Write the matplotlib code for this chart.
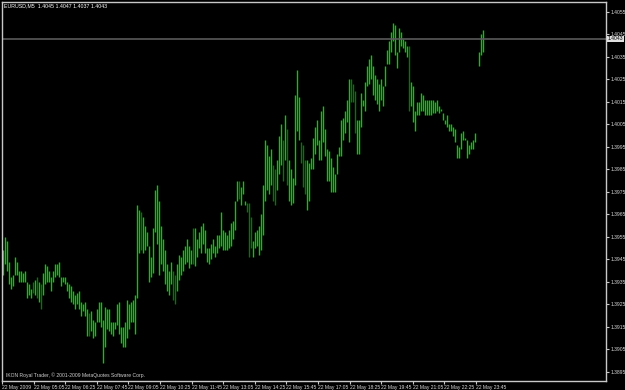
import matplotlib
matplotlib.use("Agg")
import matplotlib.pyplot as plt
import numpy as np

title = "EURUSD,M5  1.4045 1.4047 1.4037 1.4043"
copyright_txt = "IKON Royal Trader, \u00a9 2001-2009 MetaQuotes Software Corp."
bid = 1.4043

highs = [
    1.3949, 1.3955, 1.3953, 1.3944, 1.3937, 1.3938, 1.3946, 1.3944, 1.3940, 1.3940,
    1.3939, 1.3940, 1.3935, 1.3934, 1.3932, 1.3935, 1.3936, 1.3937, 1.3935, 1.3934,
    1.3939, 1.3943, 1.3942, 1.3940, 1.3937, 1.3940, 1.3943, 1.3943, 1.3944, 1.3937,
    1.3937, 1.3937, 1.3935, 1.3934, 1.3933, 1.3931, 1.3929, 1.3930, 1.3931, 1.3926,
    1.3925, 1.3926, 1.3923, 1.3921, 1.3922, 1.3918, 1.3917, 1.3923, 1.3926, 1.3926,
    1.3918, 1.3924, 1.3923, 1.3923, 1.3917, 1.3917, 1.3917, 1.3925, 1.3926, 1.3915,
    1.3915, 1.3917, 1.3927, 1.3925, 1.3926, 1.3927, 1.3929, 1.3969, 1.3967, 1.3966,
    1.3964, 1.3960, 1.3957, 1.3951, 1.3946, 1.3959, 1.3976, 1.3978, 1.3971, 1.3960,
    1.3954, 1.3949, 1.3943, 1.3940, 1.3944, 1.3940, 1.3938, 1.3943, 1.3947, 1.3946,
    1.3949, 1.3951, 1.3954, 1.3951, 1.3949, 1.3959, 1.3959, 1.3954, 1.3957, 1.3960,
    1.3961, 1.3958, 1.3950, 1.3950, 1.3952, 1.3954, 1.3951, 1.3956, 1.3956, 1.3966,
    1.3958, 1.3957, 1.3956, 1.3958, 1.3961, 1.3962, 1.3971, 1.3980, 1.3980, 1.3977,
    1.3980, 1.3971, 1.3970, 1.3970, 1.3964, 1.3953, 1.3957, 1.3958, 1.3960, 1.3965,
    1.3978, 1.3998, 1.3996, 1.3991, 1.3994, 1.3987, 1.3985, 1.3989, 1.4000, 1.4005,
    1.3998, 1.4009, 1.4003, 1.3989, 1.3985, 1.3981, 1.4018, 1.4029, 1.4017, 1.3997,
    1.3996, 1.3989, 1.3989, 1.3988, 1.3990, 1.3999, 1.4004, 1.4007, 1.3998, 1.4011,
    1.4013, 1.4003, 1.3994, 1.3993, 1.3990, 1.3986, 1.3983, 1.3992, 1.3995, 1.4007,
    1.4008, 1.4011, 1.4016, 1.4025, 1.4025, 1.4023, 1.4020, 1.4007, 1.4007, 1.4019,
    1.4016, 1.4024, 1.4031, 1.4034, 1.4036, 1.4031, 1.4027, 1.4025, 1.4023, 1.4025,
    1.4022, 1.4031, 1.4038, 1.4042, 1.4046, 1.4050, 1.4049, 1.4037, 1.4048, 1.4046,
    1.4043, 1.4042, 1.4040, 1.4040, 1.4024, 1.4022, 1.4011, 1.4015, 1.4015, 1.4019,
    1.4018, 1.4016, 1.4016, 1.4016, 1.4016, 1.4016, 1.4015, 1.4016, 1.4013, 1.4012,
    1.4010, 1.4007, 1.4009, 1.4005, 1.4005, 1.4004, 1.4003, 1.3996, 1.3995, 1.4001,
    1.4002, 1.3999, 1.3998, 1.3996, 1.3997, 1.3998, 1.4001, 1.4033, 1.4037, 1.4045,
    1.4047,
]

lows = [
    1.3938, 1.3943, 1.3940, 1.3934, 1.3932, 1.3933, 1.3938, 1.3938, 1.3935, 1.3935,
    1.3935, 1.3935, 1.3928, 1.3929, 1.3928, 1.3930, 1.3929, 1.3928, 1.3926, 1.3923,
    1.3929, 1.3934, 1.3935, 1.3935, 1.3931, 1.3935, 1.3937, 1.3938, 1.3937, 1.3933,
    1.3935, 1.3934, 1.3931, 1.3928, 1.3926, 1.3925, 1.3923, 1.3925, 1.3923, 1.3920,
    1.3922, 1.3920, 1.3911, 1.3911, 1.3913, 1.3910, 1.3911, 1.3917, 1.3917, 1.3915,
    1.3899, 1.3906, 1.3914, 1.3913, 1.3912, 1.3911, 1.3914, 1.3916, 1.3912, 1.3908,
    1.3906, 1.3906, 1.3910, 1.3914, 1.3917, 1.3917, 1.3912, 1.3928, 1.3948, 1.3949,
    1.3948, 1.3949, 1.3951, 1.3935, 1.3937, 1.3939, 1.3957, 1.3952, 1.3938, 1.3943,
    1.3940, 1.3934, 1.3931, 1.3929, 1.3934, 1.3927, 1.3925, 1.3931, 1.3936, 1.3938,
    1.3940, 1.3943, 1.3944, 1.3941, 1.3943, 1.3943, 1.3942, 1.3946, 1.3950, 1.3948,
    1.3952, 1.3948, 1.3944, 1.3943, 1.3945, 1.3948, 1.3946, 1.3948, 1.3950, 1.3951,
    1.3949, 1.3949, 1.3949, 1.3950, 1.3951, 1.3954, 1.3958, 1.3971, 1.3972, 1.3969,
    1.3974, 1.3969, 1.3966, 1.3946, 1.3950, 1.3946, 1.3950, 1.3951, 1.3947, 1.3949,
    1.3956, 1.3971, 1.3976, 1.3974, 1.3978, 1.3971, 1.3969, 1.3976, 1.3983, 1.3987,
    1.3980, 1.3989, 1.3978, 1.3971, 1.3969, 1.3970, 1.3978, 1.4002, 1.3998, 1.3988,
    1.3977, 1.3974, 1.3967, 1.3971, 1.3985, 1.3985, 1.3992, 1.3996, 1.3989, 1.3989,
    1.3997, 1.3991, 1.3980, 1.3980, 1.3975, 1.3975, 1.3975, 1.3983, 1.3991, 1.3991,
    1.3998, 1.4001, 1.4006, 1.3997, 1.4015, 1.4015, 1.4001, 1.3992, 1.3992, 1.4004,
    1.4013, 1.4011, 1.4022, 1.4023, 1.4025, 1.4018, 1.4016, 1.4014, 1.4011, 1.4016,
    1.4013, 1.4022, 1.4032, 1.4032, 1.4037, 1.4042, 1.4036, 1.4030, 1.4037, 1.4040,
    1.4039, 1.4037, 1.4035, 1.4011, 1.4013, 1.4006, 1.4002, 1.4009, 1.4009, 1.4011,
    1.4011, 1.4009, 1.4009, 1.4009, 1.4009, 1.4010, 1.4010, 1.4011, 1.4010, 1.4011,
    1.4007, 1.4005, 1.4004, 1.4002, 1.4002, 1.4000, 1.3997, 1.3990, 1.3990, 1.3994,
    1.3998, 1.3998, 1.3990, 1.3992, 1.3994, 1.3994, 1.3997, 1.4033, 1.4031, 1.4036,
    1.4037,
]

# bars drawn in the darker green (down bars)
down_bars = [15, 17, 19, 43, 69, 85, 86, 95, 118, 122, 123, 124, 135, 136, 140, 142,
             149, 150, 151, 174, 175, 176, 203]

time_labels = ["22 May 2009", "22 May 05:05", "22 May 06:25", "22 May 07:45",
               "22 May 09:05", "22 May 10:25", "22 May 11:45", "22 May 13:05",
               "22 May 14:25", "22 May 15:45", "22 May 17:05", "22 May 18:25",
               "22 May 19:45", "22 May 21:05", "22 May 22:25", "22 May 23:45"]
bars_per_label = 15.8

price_ticks = [1.3895 + 0.001 * k for k in range(17)]

plt.rcParams["font.family"] = ["Liberation Sans", "DejaVu Sans"]

W, H = 625, 390
fig = plt.figure(figsize=(W / 100, H / 100), dpi=100, facecolor="black")
ax = fig.add_axes([2 / W, 9 / H, 604 / W, 379 / H], facecolor="black")

n = len(highs)
x = np.arange(n)
cols = ["#007a00" if i in down_bars else "#00cc00" for i in range(n)]
ax.vlines(x, lows, highs, colors=cols, linewidth=1.0)

ax.set_xlim(-0.5, 301.5)
ax.set_ylim(1.38910, 1.40594)

# bid line
ax.axhline(bid, color="#5a5a5a", linewidth=1.2)

grey = "#c8c8c8"
for s in ax.spines.values():
    s.set_color(grey)
    s.set_linewidth(1.0)

ax.yaxis.tick_right()
ax.set_yticks(price_ticks)
ax.set_yticklabels([f"{p:.4f}" for p in price_ticks])
xt = [i * bars_per_label - 0.5 for i in range(len(time_labels))]
ax.set_xticks(xt)
ax.set_xticklabels(time_labels, ha="left")
ax.tick_params(axis="both", colors=grey, labelcolor="#d8d8d8", labelsize=3.6,
               length=2, width=0.8, direction="out", pad=1)
for lab in ax.get_xticklabels():
    lab.set_x(lab.get_position()[0])

ax.text(1.003, (bid - 1.38910) / (1.40594 - 1.38910), f"{bid:.4f}",
        transform=ax.transAxes, fontsize=3.6, color="black", va="center", ha="left",
        bbox=dict(boxstyle="square,pad=0.15", fc="#e0e0e0", ec="none"))

fig.text(4 / W, 1 - 6 / H, title, color="white", fontsize=3.8, va="center", ha="left")
ax.text(4 / 604, 6 / 379, copyright_txt, transform=ax.transAxes, color="#d0d0d0",
        fontsize=3.6, va="center", ha="left")

fig.savefig("out.png", dpi=100, facecolor="black")
